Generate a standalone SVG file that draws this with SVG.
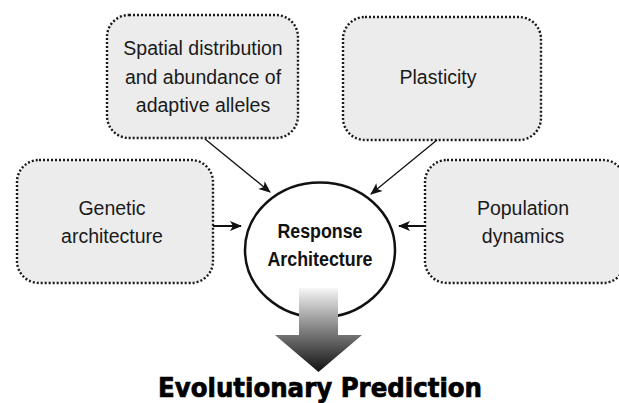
<svg xmlns="http://www.w3.org/2000/svg" width="619" height="403" viewBox="0 0 619 403">
<defs>
<style>
.box{fill:#ececed;stroke:#1a1a1a;stroke-width:2.4;stroke-dasharray:2 2}
.t{font-family:"Liberation Sans",Arial,sans-serif;font-size:19.5px;fill:#1a1a1a;text-anchor:middle}
.r{font-family:"Liberation Sans",Arial,sans-serif;font-size:20px;font-weight:bold;fill:#111;text-anchor:middle}
.c{stroke:#111;stroke-width:1.3;fill:none}
.cb{stroke:#111;stroke-width:2;fill:none}
</style>
<marker id="ah" viewBox="0 0 12 10" refX="11" refY="5" markerWidth="13" markerHeight="10" markerUnits="userSpaceOnUse" orient="auto">
<path d="M0,0 L12,5 L0,10 L3,5 Z" fill="#111"/>
</marker>
<linearGradient id="g" x1="0" y1="0" x2="0" y2="1">
<stop offset="0" stop-color="#f6f6f6"/>
<stop offset="0.45" stop-color="#8c8c8c"/>
<stop offset="1" stop-color="#111"/>
</linearGradient>
</defs>
<g id="spatial">
<rect class="box" x="107" y="15" width="191" height="123" rx="22"/>
<text class="t" x="203" y="55">Spatial distribution</text>
<text class="t" x="203" y="84">and abundance of</text>
<text class="t" x="203" y="112">adaptive alleles</text>
</g>
<g id="plasticity">
<rect class="box" x="343" y="17" width="198" height="123" rx="22"/>
<text class="t" x="438" y="84">Plasticity</text>
</g>
<g id="genetic">
<rect class="box" x="17" y="160" width="196" height="123" rx="22"/>
<text class="t" x="112" y="215">Genetic</text>
<text class="t" x="112" y="243">architecture</text>
</g>
<g id="population">
<rect class="box" x="425" y="160" width="200" height="123" rx="22"/>
<text class="t" x="523" y="215">Population</text>
<text class="t" x="523" y="243">dynamics</text>
</g>
<g id="connectors">
<line class="c" x1="205" y1="139" x2="270" y2="192" marker-end="url(#ah)"/>
<line class="c" x1="437" y1="140" x2="371" y2="194" marker-end="url(#ah)"/>
<line class="cb" x1="213" y1="226" x2="241" y2="226" marker-end="url(#ah)"/>
<line class="cb" x1="425" y1="226" x2="399" y2="226" marker-end="url(#ah)"/>
</g>
<g id="response">
<ellipse cx="320" cy="250" rx="75" ry="67.5" fill="#fff" stroke="#111" stroke-width="2.5"/>
<text class="r" x="320" y="238" textLength="85" lengthAdjust="spacingAndGlyphs">Response</text>
<text class="r" x="320" y="266" textLength="105" lengthAdjust="spacingAndGlyphs">Architecture</text>
</g>
<g id="bigarrow">
<path d="M299,288 L338,288 L338,335 L362,335 L318.5,372 L275,335 L299,335 Z" fill="url(#g)"/>
</g>
<g id="prediction">
<text transform="translate(320,397) scale(1,1.18)" x="0" y="0" font-family="DejaVu Sans,sans-serif" font-size="22" font-weight="bold" text-anchor="middle" fill="#000" stroke="#000" stroke-width="0.6" textLength="324" lengthAdjust="spacingAndGlyphs">Evolutionary Prediction</text>
</g>
</svg>
